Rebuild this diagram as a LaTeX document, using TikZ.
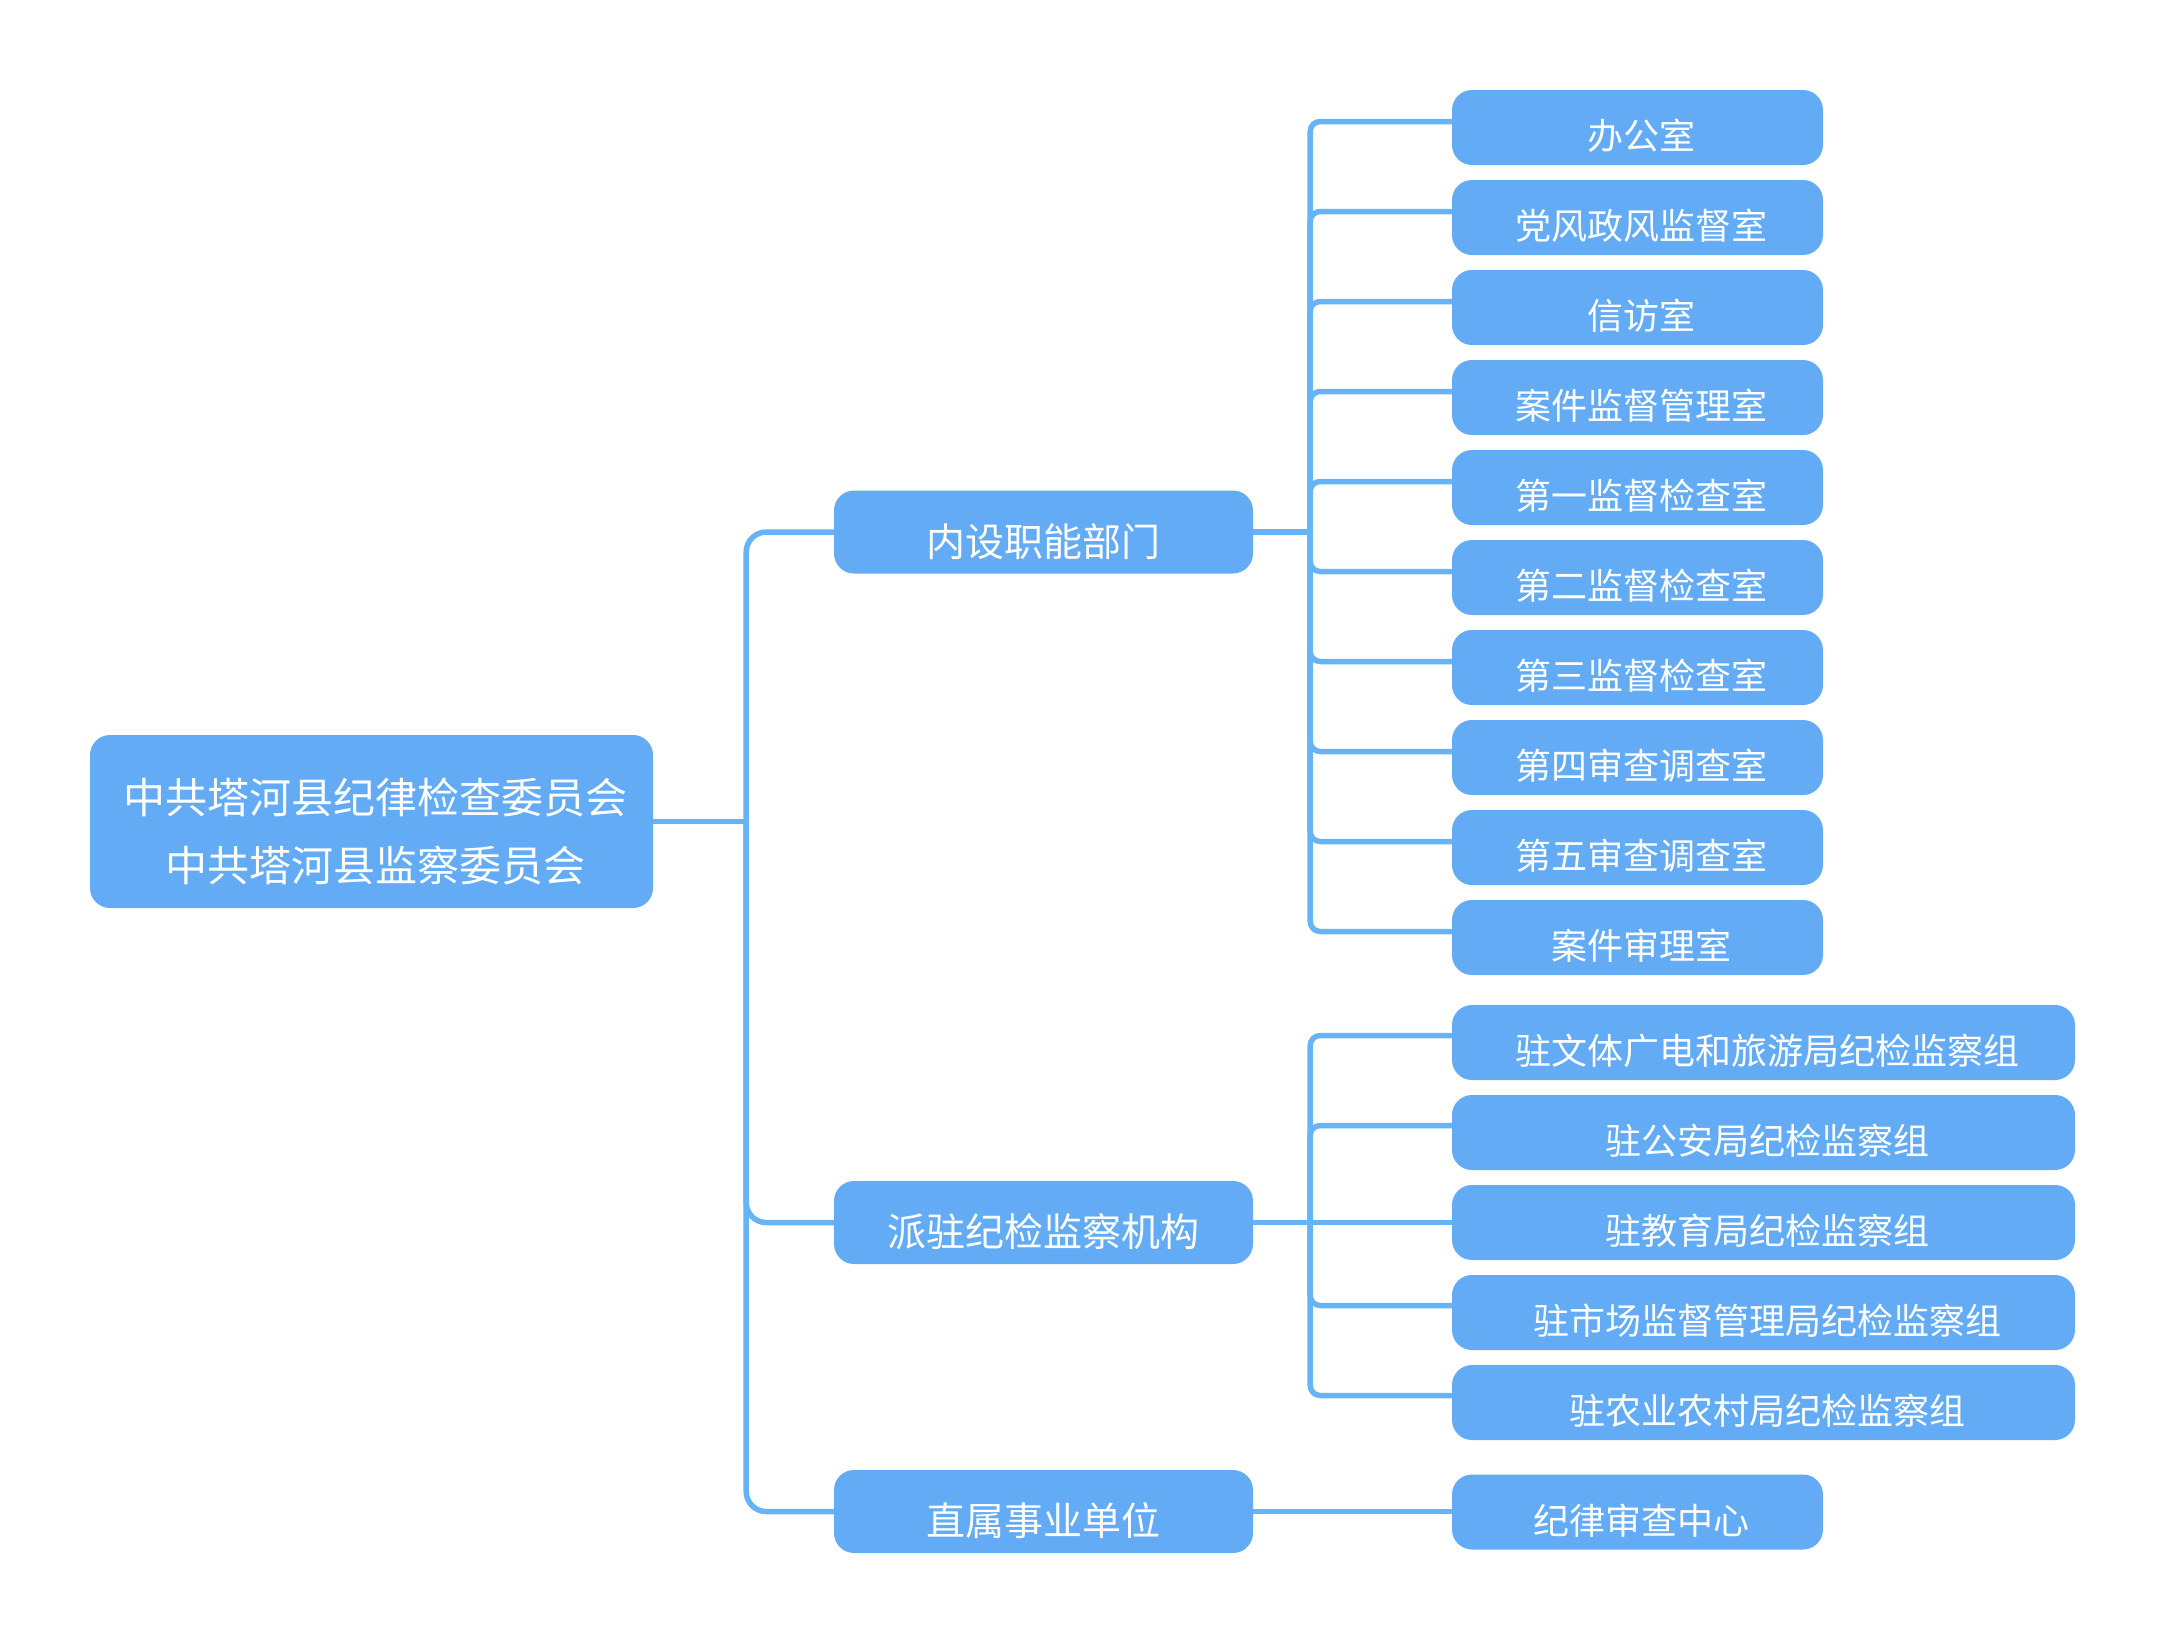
\documentclass[tikz,border=0pt]{standalone}
\usepackage{fontspec}
\newfontfamily\cjk{Noto Sans CJK SC}
\definecolor{boxblue}{RGB}{99,171,245}
\definecolor{lineblue}{RGB}{102,180,246}
\begin{document}
\begin{tikzpicture}[x=1pt,y=-1pt,
  box/.style={fill=boxblue, rounded corners=20pt, inner sep=0pt, text=white, anchor=center},
  lvthree/.style={box, minimum height=75pt, font=\cjk\fontsize{36}{36}\selectfont, text height=44pt, text depth=0pt, execute at begin node={\kern8pt}},
  sbox/.style={lvthree, minimum width=371pt},
  lbox/.style={lvthree, minimum width=623pt},
  lvtwo/.style={box, minimum width=419pt, minimum height=83pt, font=\cjk\fontsize{39}{39}\selectfont, text height=48pt, text depth=0pt},
  conn/.style={draw=lineblue, line width=5.5pt},
  maincorner/.style={conn, rounded corners=20pt},
  subcorner/.style={conn, rounded corners=10pt}
]
\useasboundingbox (0,0) rectangle (2166,1644);

% root
\node[box, minimum width=563pt, minimum height=173pt, font=\cjk\fontsize{42}{68}\selectfont, align=center]
  (root) at (371.5,821.5) {\rule{0pt}{55pt}\kern8pt中共塔河县纪律检查委员会\\\kern8pt中共塔河县监察委员会};

% level 2
\node[lvtwo] (nsbm) at (1043.5,532) {内设职能部门};
\node[lvtwo] (pzjg) at (1043.5,1222.5) {派驻纪检监察机构};
\node[lvtwo] (zssy) at (1043.5,1511.5) {直属事业单位};

% level 3, group 1
\node[sbox] (a1) at (1637.5,127.5) {办公室};
\node[sbox] (a2) at (1637.5,217.5) {党风政风监督室};
\node[sbox] (a3) at (1637.5,307.5) {信访室};
\node[sbox] (a4) at (1637.5,397.5) {案件监督管理室};
\node[sbox] (a5) at (1637.5,487.5) {第一监督检查室};
\node[sbox] (a6) at (1637.5,577.5) {第二监督检查室};
\node[sbox] (a7) at (1637.5,667.5) {第三监督检查室};
\node[sbox] (a8) at (1637.5,757.5) {第四审查调查室};
\node[sbox] (a9) at (1637.5,847.5) {第五审查调查室};
\node[sbox] (a10) at (1637.5,937.5) {案件审理室};

% level 3, group 2
\node[lbox] (b1) at (1763.5,1042.5) {驻文体广电和旅游局纪检监察组};
\node[lbox] (b2) at (1763.5,1132.5) {驻公安局纪检监察组};
\node[lbox] (b3) at (1763.5,1222.5) {驻教育局纪检监察组};
\node[lbox] (b4) at (1763.5,1312.5) {驻市场监督管理局纪检监察组};
\node[lbox] (b5) at (1763.5,1402.5) {驻农业农村局纪检监察组};

% level 3, group 3
\node[sbox] (c1) at (1637.5,1512) {纪律审查中心};

% junctions
\coordinate (j0) at ([xshift=93pt]root.east);
\coordinate (j1) at ([xshift=57pt]nsbm.east);
\coordinate (j2) at ([xshift=57pt]pzjg.east);

% connectors
\draw[conn] (root.east) -- (j0);
\foreach \c in {nsbm,pzjg,zssy} \draw[maincorner] (j0) |- (\c.west);

\draw[conn] (nsbm.east) -- (j1);
\foreach \c in {a1,a2,a3,a4,a5,a6,a7,a8,a9,a10} \draw[subcorner] (j1) |- ([yshift=6pt]\c.west);

\draw[conn] (pzjg.east) -- (j2);
\foreach \c in {b1,b2,b4,b5} \draw[subcorner] (j2) |- ([yshift=7pt]\c.west);
\draw[conn] (j2) -- (b3.west);

\draw[conn] (zssy.east) -- (zssy.east -| c1.west);
\end{tikzpicture}
\end{document}
